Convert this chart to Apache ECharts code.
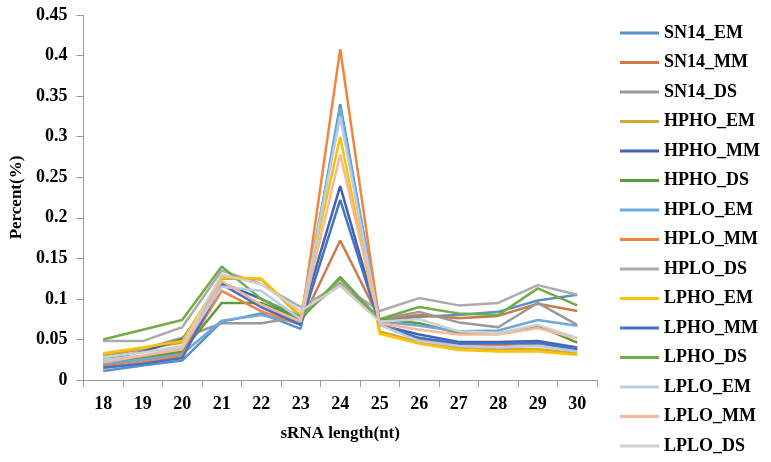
<!DOCTYPE html>
<html>
<head>
<meta charset="utf-8">
<script src="https://cdn.jsdelivr.net/npm/echarts@6/dist/echarts.min.js"></script>
<style>html,body{margin:0;padding:0;background:#fff}#c{width:771px;height:462px}</style>
</head>
<body>
<div id="c"></div>
<script>
const categories = ['18','19','20','21','22','23','24','25','26','27','28','29','30'];
const seriesNames = ['SN14_EM','SN14_MM','SN14_DS','HPHO_EM','HPHO_MM','HPHO_DS','HPLO_EM','HPLO_MM','HPLO_DS','LPHO_EM','LPHO_MM','LPHO_DS','LPLO_EM','LPLO_MM','LPLO_DS'];
const SN14_EM = [0.011,0.018,0.024,0.072,0.082,0.063,0.340,0.072,0.078,0.080,0.084,0.098,0.105];
const SN14_MM = [0.018,0.025,0.033,0.118,0.090,0.070,0.172,0.075,0.080,0.076,0.079,0.094,0.085];
const SN14_DS = [0.030,0.038,0.052,0.070,0.070,0.078,0.120,0.075,0.084,0.071,0.065,0.095,0.068];
const HPHO_EM = [0.031,0.039,0.046,0.125,0.124,0.078,0.331,0.060,0.047,0.040,0.038,0.038,0.033];
const HPHO_MM = [0.025,0.035,0.050,0.120,0.100,0.075,0.239,0.068,0.056,0.047,0.047,0.048,0.040];
const HPHO_DS = [0.020,0.028,0.035,0.095,0.095,0.075,0.127,0.075,0.070,0.058,0.057,0.067,0.046];
const HPLO_EM = [0.020,0.025,0.032,0.073,0.080,0.070,0.335,0.072,0.067,0.060,0.061,0.074,0.067];
const HPLO_MM = [0.015,0.022,0.030,0.110,0.085,0.068,0.408,0.070,0.050,0.044,0.043,0.045,0.038];
const HPLO_DS = [0.048,0.048,0.065,0.135,0.118,0.090,0.118,0.085,0.101,0.092,0.095,0.117,0.105];
const LPHO_EM = [0.033,0.040,0.048,0.127,0.125,0.080,0.300,0.057,0.045,0.037,0.035,0.035,0.031];
const LPHO_MM = [0.015,0.020,0.027,0.118,0.090,0.068,0.222,0.068,0.052,0.045,0.045,0.046,0.038];
const LPHO_DS = [0.050,0.062,0.074,0.140,0.100,0.078,0.125,0.075,0.090,0.082,0.080,0.113,0.092];
const LPLO_EM = [0.025,0.030,0.040,0.115,0.110,0.075,0.325,0.068,0.048,0.042,0.040,0.042,0.035];
const LPLO_MM = [0.022,0.030,0.038,0.122,0.093,0.072,0.278,0.070,0.062,0.056,0.056,0.064,0.051];
const LPLO_DS = [0.028,0.034,0.042,0.130,0.118,0.085,0.116,0.072,0.075,0.060,0.058,0.068,0.052];
const seriesData = [SN14_EM,SN14_MM,SN14_DS,HPHO_EM,HPHO_MM,HPHO_DS,HPLO_EM,HPLO_MM,HPLO_DS,LPHO_EM,LPHO_MM,LPHO_DS,LPLO_EM,LPLO_MM,LPLO_DS];
const colors = ['#5B8FC9','#CD7A4A','#999999','#D4AA2A','#3F64B0','#5C9A3F','#6FA8DC','#F0853E','#ABABAB','#FFC000','#4472C4','#70AD47','#B4CDEA','#F4B89A','#CFCFCF'];

const font = '"Liberation Serif","Times New Roman",serif';
const chart = echarts.init(document.getElementById('c'));
chart.setOption({
  animation: false,
  color: colors,
  grid: {left: 81, right: 174, top: 15, bottom: 82, containLabel: false},
  legend: {
    orient: 'vertical', left: 620, top: 23, padding: 0,
    icon: 'rect', itemWidth: 39, itemHeight: 3, itemGap: 9.5,
    textStyle: {fontFamily: font, fontWeight: 'bold', fontSize: 18, color: '#000', lineHeight: 20},
    data: seriesNames
  },
  xAxis: {
    type: 'category', data: categories, boundaryGap: true,
    name: 'sRNA length(nt)', nameLocation: 'middle', nameGap: 45,
    nameTextStyle: {fontFamily: font, fontWeight: 'bold', fontSize: 17, color: '#000'},
    axisLine: {lineStyle: {color: '#9a9a9a', width: 1}},
    axisTick: {show: true, length: 7, alignWithLabel: false, lineStyle: {color: '#9a9a9a'}},
    axisLabel: {fontFamily: font, fontWeight: 'bold', fontSize: 18, color: '#000', margin: 15},
    splitLine: {show: false}
  },
  yAxis: {
    type: 'value', min: 0, max: 0.45, interval: 0.05,
    name: 'Percent(%)', nameLocation: 'middle', nameGap: 57,
    nameTextStyle: {fontFamily: font, fontWeight: 'bold', fontSize: 17, color: '#000'},
    axisLine: {show: true, lineStyle: {color: '#9a9a9a', width: 1}},
    axisTick: {show: true, length: 7, lineStyle: {color: '#9a9a9a'}},
    axisLabel: {fontFamily: font, fontWeight: 'bold', fontSize: 18, color: '#000', margin: 16},
    splitLine: {show: false}
  },
  series: seriesNames.map((n, i) => ({
    name: n, type: 'line', data: seriesData[i],
    symbol: 'none', showSymbol: false,
    lineStyle: {width: 2.5, color: colors[i]},
    itemStyle: {color: colors[i]}
  }))
});
</script>
</body>
</html>
